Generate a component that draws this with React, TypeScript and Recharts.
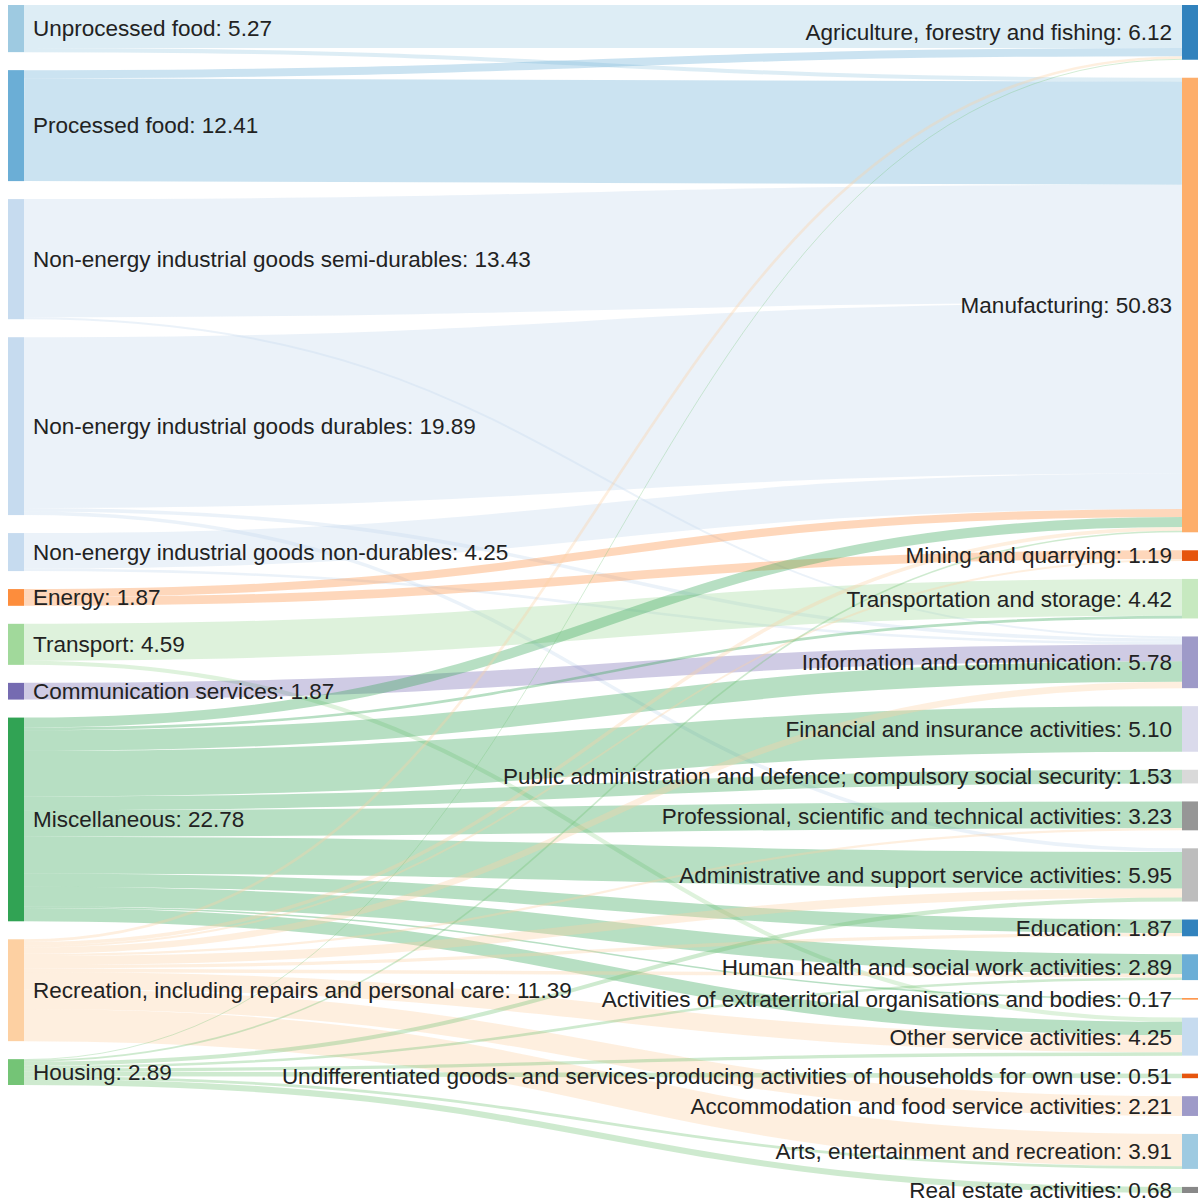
import { Sankey } from "recharts";

// COICOP-style consumption groups (left) and NACE sectors (right)
const SOURCES = [
  "Unprocessed food",
  "Processed food",
  "Non-energy industrial goods semi-durables",
  "Non-energy industrial goods durables",
  "Non-energy industrial goods non-durables",
  "Energy",
  "Transport",
  "Communication services",
  "Miscellaneous",
  "Recreation, including repairs and personal care",
  "Housing",
];

const TARGETS = [
  "Agriculture, forestry and fishing",
  "Manufacturing",
  "Mining and quarrying",
  "Transportation and storage",
  "Information and communication",
  "Financial and insurance activities",
  "Public administration and defence; compulsory social security",
  "Professional, scientific and technical activities",
  "Administrative and support service activities",
  "Education",
  "Human health and social work activities",
  "Activities of extraterritorial organisations and bodies",
  "Other service activities",
  "Undifferentiated goods- and services-producing activities of households for own use",
  "Accommodation and food service activities",
  "Arts, entertainment and recreation",
  "Real estate activities",
];

const SOURCE_COLORS = [
  "#9ecae1", "#6baed6", "#c6dbef", "#c6dbef", "#c6dbef", "#fd8d3c",
  "#a1d99b", "#756bb1", "#31a354", "#fdd0a2", "#74c476",
];

const TARGET_COLORS = [
  "#3182bd", "#fdae6b", "#e6550d", "#c7e9c0", "#9e9ac8", "#dadaeb",
  "#d9d9d9", "#969696", "#bdbdbd", "#3182bd", "#6baed6", "#fd8d3c",
  "#c6dbef", "#e6550d", "#9e9ac8", "#9ecae1", "#888888",
];

// [source, target, value]
const FLOWS: [number, number, number][] = [
  [0, 0, 4.82], [0, 1, 0.45],
  [1, 0, 0.9], [1, 1, 11.51],
  [2, 1, 13.21], [2, 4, 0.22],
  [3, 1, 19.09], [3, 4, 0.4], [3, 8, 0.4],
  [4, 1, 3.97], [4, 4, 0.28],
  [5, 1, 0.9], [5, 2, 0.97],
  [6, 3, 4.12], [6, 12, 0.47],
  [7, 4, 1.87],
  [8, 1, 1.12], [8, 3, 0.3], [8, 4, 2.3], [8, 5, 5.1], [8, 6, 1.53], [8, 7, 2.98],
  [8, 8, 4.1], [8, 9, 1.5], [8, 10, 2.2], [8, 11, 0.17], [8, 12, 1.48],
  [9, 0, 0.3], [9, 1, 0.4], [9, 2, 0.22], [9, 4, 0.71], [9, 7, 0.25], [9, 8, 1.0],
  [9, 9, 0.37], [9, 10, 0.4], [9, 12, 1.93], [9, 14, 2.21], [9, 15, 3.6],
  [10, 0, 0.1], [10, 1, 0.18], [10, 8, 0.45], [10, 10, 0.29], [10, 12, 0.37],
  [10, 13, 0.51], [10, 15, 0.31], [10, 16, 0.68],
];

const NAMES = [...SOURCES, ...TARGETS];
const COLORS = [...SOURCE_COLORS, ...TARGET_COLORS];

const data = {
  nodes: NAMES.map((name) => ({ name })),
  links: FLOWS.map(([s, t, v]) => ({ source: s, target: SOURCES.length + t, value: v })),
};

const FONT = "Arial, 'Liberation Sans', Helvetica, sans-serif";

function SankeyNode(props: any) {
  const { x, y, width, height, payload } = props;
  const i = NAMES.indexOf(payload.name);
  const isLeft = i < SOURCES.length;
  const label = `${payload.name}: ${payload.value.toFixed(2)}`;
  return (
    <g>
      <rect x={x} y={y} width={width} height={Math.max(height, 1)} fill={COLORS[i]} />
      <text
        x={isLeft ? x + width + 9 : x - 10}
        y={y + height / 2}
        dy="0.35em"
        textAnchor={isLeft ? "start" : "end"}
        fontSize={22.5}
        fontFamily={FONT}
        fill="#222"
      >
        {label}
      </text>
    </g>
  );
}

function SankeyLink(props: any) {
  const { sourceX, targetX, sourceY, targetY, sourceControlX, targetControlX, linkWidth, payload } = props;
  const i = NAMES.indexOf(payload.source.name);
  return (
    <path
      d={`M${sourceX},${sourceY} C${sourceControlX},${sourceY} ${targetControlX},${targetY} ${targetX},${targetY}`}
      fill="none"
      stroke={COLORS[i]}
      strokeOpacity={0.35}
      strokeWidth={linkWidth}
    />
  );
}

export default function App() {
  return (
    <div style={{ position: "absolute", left: 0, top: 0, width: 1200, height: 1202, background: "#fff" }}>
      <Sankey
        width={1200}
        height={1202}
        data={data}
        nodeWidth={16}
        nodePadding={18}
        iterations={0}
        margin={{ top: 5, right: 2, bottom: 9, left: 8 }}
        node={SankeyNode}
        link={SankeyLink}
      />
    </div>
  );
}
